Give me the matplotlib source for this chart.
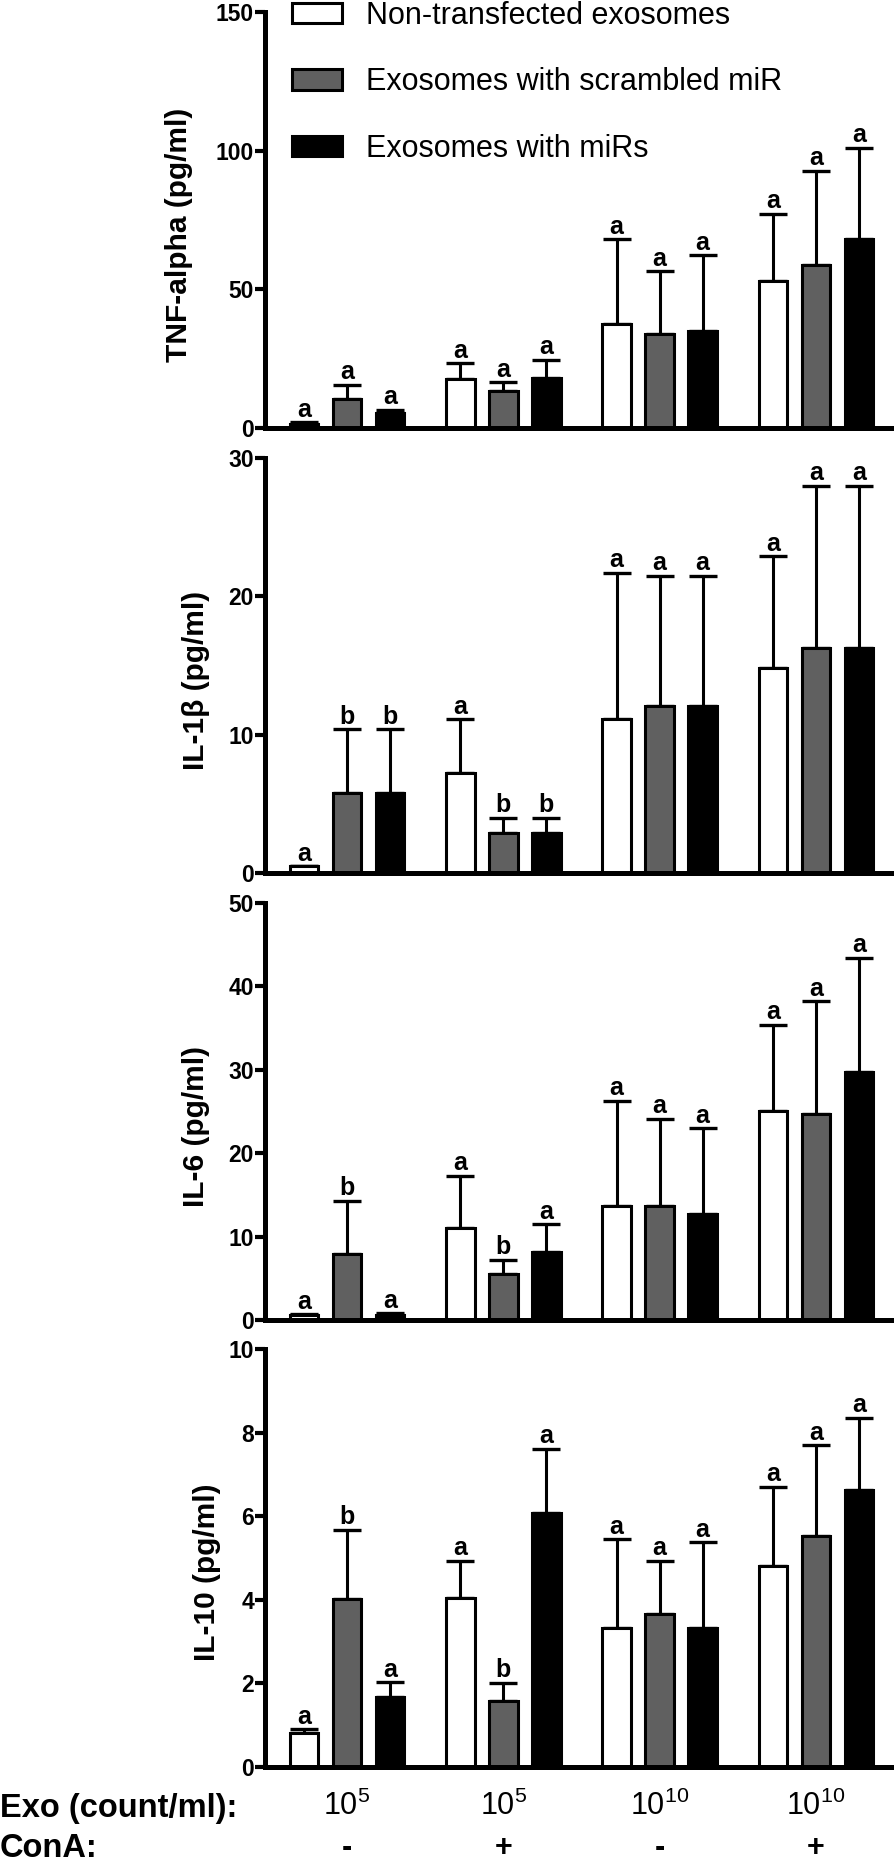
import numpy as np
import matplotlib
matplotlib.use("Agg")
import matplotlib.pyplot as plt
from matplotlib.transforms import blended_transform_factory

plt.rcParams['font.family'] = ['Liberation Sans', 'DejaVu Sans']

# data: 4 conditions x 3 exosome types (mean, upper SD, letter)
series = ["Non-transfected exosomes", "Exosomes with scrambled miR", "Exosomes with miRs"]
exo_labels = [r"$\mathregular{10^{5}}$", r"$\mathregular{10^{5}}$",
              r"$\mathregular{10^{10}}$", r"$\mathregular{10^{10}}$"]
cona_labels = ["-", "+", "-", "+"]

tnf_mean = [[1.3, 17.6, 37.4, 52.9], [10.3, 13.3, 33.8, 58.7], [5.4, 18.0, 34.9, 68.3]]
tnf_err = [[0.7, 5.8, 30.6, 24.4], [5.2, 3.2, 22.7, 34.1], [1.1, 6.5, 27.4, 32.7]]
tnf_let = [["a", "a", "a", "a"], ["a", "a", "a", "a"], ["a", "a", "a", "a"]]

il1b_mean = [[0.5, 7.2, 11.1, 14.8], [5.8, 2.9, 12.1, 16.3], [5.8, 2.9, 12.1, 16.3]]
il1b_err = [[0.0, 3.9, 10.6, 8.1], [4.6, 1.1, 9.4, 11.7], [4.6, 1.1, 9.4, 11.7]]
il1b_let = [["a", "a", "a", "a"], ["b", "b", "a", "a"], ["b", "b", "a", "a"]]

il6_mean = [[0.6, 11.0, 13.7, 25.1], [7.9, 5.5, 13.7, 24.7], [0.6, 8.1, 12.7, 29.7]]
il6_err = [[0.1, 6.3, 12.6, 10.3], [6.4, 1.7, 10.4, 13.5], [0.2, 3.4, 10.3, 13.7]]
il6_let = [["a", "a", "a", "a"], ["b", "b", "a", "a"], ["a", "a", "a", "a"]]

il10_mean = [[0.81, 4.04, 3.33, 4.81], [4.02, 1.58, 3.66, 5.53], [1.67, 6.07, 3.33, 6.63]]
il10_err = [[0.09, 0.89, 2.12, 1.89], [1.65, 0.43, 1.27, 2.17], [0.36, 1.54, 2.05, 1.72]]
il10_let = [["a", "a", "a", "a"], ["b", "b", "a", "a"], ["a", "a", "a", "a"]]

panels = [
    ("TNF-alpha (pg/ml)", tnf_mean, tnf_err, tnf_let, 150, 50),
    ("IL-1\u03b2 (pg/ml)", il1b_mean, il1b_err, il1b_let, 30, 10),
    ("IL-6 (pg/ml)", il6_mean, il6_err, il6_let, 50, 10),
    ("IL-10 (pg/ml)", il10_mean, il10_err, il10_let, 10, 2),
]
label_x = [-0.114, -0.088, -0.088, -0.07]

faces = ["white", "#606060", "black"]
W, H = 894, 1860
fig = plt.figure(figsize=(W / 100, H / 100), dpi=100)

# pixel boxes of the four panels (top, bottom)
boxes = [(12, 428), (458, 873), (903, 1320), (1349, 1767)]
ax_left, ax_right = 265, 894

group_x = np.arange(4) * 3.635
offsets = [-1, 0, 1]
width = 0.67

axes = []
for i, ((ylabel, mean, err, letters, ymax, step), (top, bot)) in enumerate(zip(panels, boxes)):
    ax = fig.add_axes([ax_left / W, 1 - bot / H, (ax_right - ax_left) / W, (bot - top) / H])
    axes.append(ax)
    handles = []
    for k in range(3):
        xs = group_x + offsets[k]
        m = np.array(mean[k])
        e = np.array(err[k])
        b = ax.bar(xs, m, width, color=faces[k], edgecolor="black", linewidth=2.2, zorder=2)
        handles.append(b)
        ax.errorbar(xs, m, yerr=[np.zeros_like(e), e], fmt="none", ecolor="black",
                    elinewidth=2.2, capsize=10, capthick=2.4, zorder=1)
        for x, top_v, lab in zip(xs, m + e, letters[k]):
            ax.annotate(lab, (x, top_v), xytext=(0, 4), textcoords="offset points",
                        ha="center", va="baseline", fontsize=18, fontweight="bold")
    ax.set_xlim(-1.907, 12.72)
    ax.set_ylim(0, ymax)
    ax.set_yticks(np.arange(0, ymax + step / 2, step))
    ax.set_xticks([])
    for s in ["top", "right"]:
        ax.spines[s].set_visible(False)
    for s in ["left", "bottom"]:
        ax.spines[s].set_linewidth(3.6)
    ax.tick_params(axis="y", length=7, width=3, pad=1, labelsize=16.5)
    for t in ax.get_yticklabels():
        t.set_fontweight("bold")
    ax.set_ylabel(ylabel, fontsize=21.5, fontweight="bold")
    ax.yaxis.set_label_coords(label_x[i], 0.465)
    if i == 0:
        ax.legend(handles, series, loc="upper left", bbox_to_anchor=(292 / W, 1 - 1 / H),
                  bbox_transform=fig.transFigure, frameon=False, fontsize=22,
                  handlelength=1.63, handleheight=0.65, handletextpad=0.8,
                  labelspacing=1.19, borderpad=0, borderaxespad=0)

# condition labels under the last panel
ax = axes[-1]
tr = blended_transform_factory(ax.transData, fig.transFigure)
fig.text(0, 1 - 1808 / H, "Exo (count/ml):", fontsize=23.5, fontweight="bold", va="center")
fig.text(0, 1 - 1848 / H, "ConA:", fontsize=23.5, fontweight="bold", va="center")
for x, e, c in zip(group_x, exo_labels, cona_labels):
    fig.text(x, 1 - 1806 / H, e, transform=tr, fontsize=22, ha="center", va="center")
    fig.text(x, 1 - 1848 / H, c, transform=tr, fontsize=22, fontweight="bold",
             ha="center", va="center")

fig.savefig("out.png", dpi=100)
